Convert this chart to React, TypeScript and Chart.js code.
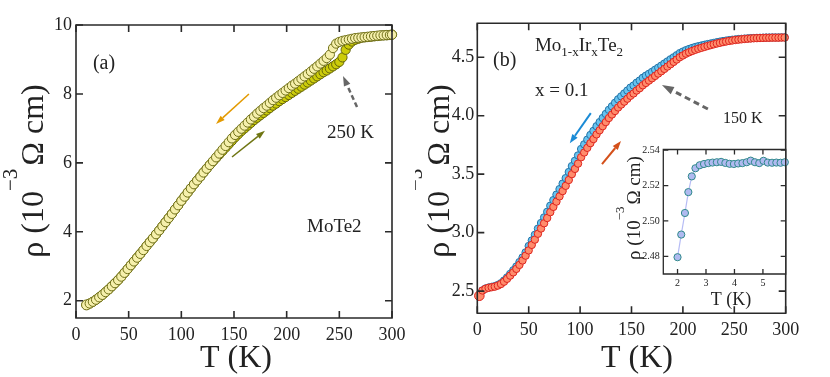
import React, { useEffect, useRef } from "react";
import { Chart, registerables } from "chart.js";
Chart.register(...registerables);

const FONT = "'Liberation Serif', 'Times New Roman', serif";
const INK = "#222";

// ---------- Panel (a): MoTe2 ----------
const tempA = [
  10, 13, 16, 19, 22, 25, 28, 31, 34, 37,
  40, 43, 46, 49, 52, 55, 58, 61, 64, 67,
  70, 73, 76, 79, 82, 85, 88, 91, 94, 97,
  100, 103, 106, 109, 112, 115, 118, 121, 124, 127,
  130, 133, 136, 139, 142, 145, 148, 151, 154, 157,
  160, 163, 166, 169, 172, 175, 178, 181, 184, 187,
  190, 193, 196, 199, 202, 205, 208, 211, 214, 217,
  220, 223, 226, 229, 232, 235, 238, 241, 244, 247,
  250, 253, 256, 259, 262, 265, 268, 271, 274, 277,
  280, 283, 286, 289, 292, 295, 298, 300,
];
const rhoCoolA = [
  1.88, 1.92, 1.97, 2.03, 2.10, 2.17, 2.25, 2.33, 2.42, 2.51,
  2.60, 2.70, 2.81, 2.92, 3.03, 3.14, 3.25, 3.36, 3.47, 3.59,
  3.70, 3.81, 3.93, 4.04, 4.16, 4.28, 4.40, 4.52, 4.65, 4.77,
  4.90, 5.02, 5.14, 5.26, 5.38, 5.49, 5.60, 5.72, 5.83, 5.94,
  6.05, 6.16, 6.27, 6.38, 6.49, 6.60, 6.71, 6.81, 6.90, 6.99,
  7.08, 7.17, 7.26, 7.34, 7.43, 7.51, 7.59, 7.66, 7.74, 7.82,
  7.89, 7.96, 8.03, 8.10, 8.17, 8.24, 8.30, 8.37, 8.44, 8.51,
  8.58, 8.65, 8.73, 8.80, 8.88, 8.96, 9.04, 9.14, 9.33, 9.46,
  9.51, 9.54, 9.56, 9.58, 9.60, 9.62, 9.63, 9.64, 9.65, 9.66,
  9.67, 9.68, 9.69, 9.70, 9.70, 9.71, 9.71, 9.72,
];
const rhoWarmA = [
  1.88, 1.92, 1.97, 2.03, 2.10, 2.17, 2.25, 2.33, 2.42, 2.51,
  2.60, 2.70, 2.81, 2.92, 3.03, 3.14, 3.25, 3.36, 3.47, 3.59,
  3.70, 3.81, 3.93, 4.04, 4.16, 4.28, 4.40, 4.52, 4.65, 4.77,
  4.90, 5.02, 5.14, 5.26, 5.38, 5.49, 5.60, 5.72, 5.83, 5.94,
  6.04, 6.14, 6.24, 6.34, 6.44, 6.54, 6.64, 6.74, 6.83, 6.92,
  7.00, 7.08, 7.16, 7.24, 7.31, 7.38, 7.45, 7.52, 7.59, 7.66,
  7.72, 7.79, 7.85, 7.91, 7.97, 8.03, 8.09, 8.15, 8.21, 8.27,
  8.33, 8.39, 8.45, 8.51, 8.57, 8.63, 8.68, 8.74, 8.80, 8.86,
  8.93, 9.06, 9.28, 9.43, 9.52, 9.57, 9.60, 9.63, 9.64, 9.65,
  9.66, 9.67, 9.68, 9.69, 9.70, 9.70, 9.71, 9.72,
];
const xTicksA = [0, 50, 100, 150, 200, 250, 300];
const yTicksA = [2, 4, 6, 8, 10];

// ---------- Panel (b): Mo1-xIrxTe2, x = 0.1 ----------
const tempB = [
  2, 5, 8, 11, 14, 17, 20, 23, 26, 29,
  32, 35, 38, 41, 44, 47, 50, 53, 56, 59,
  62, 65, 68, 71, 74, 77, 80, 83, 86, 89,
  92, 95, 98, 101, 104, 107, 110, 113, 116, 119,
  122, 125, 128, 131, 134, 137, 140, 143, 146, 149,
  152, 155, 158, 161, 164, 167, 170, 173, 176, 179,
  182, 185, 188, 191, 194, 197, 200, 203, 206, 209,
  212, 215, 218, 221, 224, 227, 230, 233, 236, 239,
  242, 245, 248, 251, 254, 257, 260, 263, 266, 269,
  272, 275, 278, 281, 284, 287, 290, 293, 296, 299,
];
const rhoWarmB = [
  2.46, 2.505, 2.52, 2.528, 2.533, 2.538, 2.547, 2.56, 2.58, 2.605,
  2.632, 2.66, 2.69, 2.724, 2.762, 2.803, 2.848, 2.895, 2.94, 2.99,
  3.035, 3.08, 3.125, 3.175, 3.22, 3.265, 3.31, 3.355, 3.40, 3.45,
  3.50, 3.545, 3.59, 3.645, 3.685, 3.725, 3.765, 3.80, 3.84, 3.875,
  3.91, 3.945, 3.98, 4.01, 4.04, 4.07, 4.095, 4.12, 4.145, 4.17,
  4.19, 4.215, 4.235, 4.26, 4.28, 4.30, 4.32, 4.34, 4.36, 4.38,
  4.40, 4.42, 4.44, 4.46, 4.48, 4.50, 4.515, 4.53, 4.542, 4.553,
  4.563, 4.572, 4.58, 4.588, 4.596, 4.603, 4.61, 4.617, 4.623, 4.629,
  4.634, 4.639, 4.643, 4.647, 4.65, 4.653, 4.656, 4.658, 4.66, 4.662,
  4.663, 4.664, 4.665, 4.666, 4.666, 4.667, 4.667, 4.667, 4.668, 4.668,
];
const rhoCoolB = [
  2.46, 2.505, 2.522, 2.53, 2.536, 2.542, 2.552, 2.567, 2.59, 2.617,
  2.647, 2.678, 2.71, 2.748, 2.787, 2.831, 2.885, 2.933, 2.981, 3.034,
  3.082, 3.13, 3.178, 3.23, 3.278, 3.325, 3.372, 3.419, 3.466, 3.518,
  3.569, 3.614, 3.66, 3.715, 3.755, 3.795, 3.835, 3.87, 3.91, 3.945,
  3.98, 4.015, 4.05, 4.08, 4.11, 4.14, 4.165, 4.19, 4.215, 4.24,
  4.258, 4.282, 4.301, 4.324, 4.342, 4.358, 4.375, 4.393, 4.41, 4.428,
  4.446, 4.464, 4.482, 4.499, 4.517, 4.535, 4.548, 4.56, 4.57, 4.579,
  4.587, 4.594, 4.60, 4.606, 4.612, 4.617, 4.622, 4.628, 4.633, 4.638,
  4.642, 4.646, 4.649, 4.652, 4.655, 4.657, 4.659, 4.661, 4.663, 4.664,
  4.665, 4.666, 4.667, 4.668, 4.668, 4.669, 4.669, 4.669, 4.67, 4.67,
];
const xTicksB = [0, 50, 100, 150, 200, 250, 300];
const yTicksB = [2.5, 3.0, 3.5, 4.0, 4.5];

// ---------- Inset: low-temperature drop ----------
const tempInset = [
  2.0, 2.13, 2.26, 2.38, 2.5, 2.63, 2.78, 2.93, 3.08, 3.23,
  3.38, 3.53, 3.68, 3.83, 3.98, 4.13, 4.28, 4.43, 4.57, 4.72,
  4.87, 5.02, 5.17, 5.32, 5.47, 5.62, 5.77,
];
const rhoInset = [
  2.4795, 2.4923, 2.5045, 2.5163, 2.5252, 2.5298, 2.5315, 2.5322, 2.5327, 2.533,
  2.5332, 2.5334, 2.5328, 2.5323, 2.5322, 2.5325, 2.5327, 2.5332, 2.5341, 2.5332,
  2.5327, 2.534, 2.533, 2.5329, 2.533, 2.5329, 2.5332,
];
const xTicksInset = [2, 3, 4, 5];
const yTicksInset = [2.48, 2.5, 2.52, 2.54];

// ---------- helpers ----------
type Seg = { t: string; size: number; dy?: number; gap?: number };

function drawRich(
  ctx: CanvasRenderingContext2D,
  segs: Seg[],
  ax: number,
  ay: number,
  align: "left" | "center",
  rot = false
) {
  ctx.save();
  ctx.translate(ax, ay);
  if (rot) ctx.rotate(-Math.PI / 2);
  ctx.textBaseline = "alphabetic";
  ctx.textAlign = "left";
  ctx.fillStyle = INK;
  let total = 0;
  const widths = segs.map((s) => {
    ctx.font = `${s.size}px ${FONT}`;
    const w = ctx.measureText(s.t).width + (s.gap || 0);
    total += w;
    return w;
  });
  let x = align === "center" ? -total / 2 : 0;
  segs.forEach((s, i) => {
    ctx.font = `${s.size}px ${FONT}`;
    ctx.fillText(s.t, x + (s.gap || 0), s.dy || 0);
    x += widths[i];
  });
  ctx.restore();
}

function arrow(
  ctx: CanvasRenderingContext2D,
  x1: number,
  y1: number,
  x2: number,
  y2: number,
  color: string,
  lw: number,
  headLen: number,
  headW: number,
  dash?: number[]
) {
  const a = Math.atan2(y2 - y1, x2 - x1);
  const bx = x2 - headLen * Math.cos(a);
  const by = y2 - headLen * Math.sin(a);
  ctx.save();
  ctx.strokeStyle = color;
  ctx.fillStyle = color;
  ctx.lineWidth = lw;
  if (dash) ctx.setLineDash(dash);
  ctx.beginPath();
  ctx.moveTo(x1, y1);
  ctx.lineTo(bx, by);
  ctx.stroke();
  ctx.setLineDash([]);
  ctx.beginPath();
  ctx.moveTo(x2, y2);
  ctx.lineTo(bx + (headW / 2) * Math.sin(a), by - (headW / 2) * Math.cos(a));
  ctx.lineTo(bx - (headW / 2) * Math.sin(a), by + (headW / 2) * Math.cos(a));
  ctx.closePath();
  ctx.fill();
  ctx.restore();
}

type Annot = (
  ctx: CanvasRenderingContext2D,
  px: (v: number) => number,
  py: (v: number) => number
) => void;

function drawFrame(chart: any, tickLen: number, frameW: number) {
  const { ctx, chartArea: a, scales } = chart;
  ctx.save();
  ctx.strokeStyle = "#2a2a2a";
  ctx.lineWidth = frameW;
  ctx.setLineDash([]);
  ctx.beginPath();
  ctx.rect(a.left, a.top, a.right - a.left, a.bottom - a.top);
  ctx.stroke();
  ctx.beginPath();
  scales.x.ticks.forEach((t: any) => {
    const p = scales.x.getPixelForValue(t.value);
    ctx.moveTo(p, a.bottom);
    ctx.lineTo(p, a.bottom - tickLen);
    ctx.moveTo(p, a.top);
    ctx.lineTo(p, a.top + tickLen);
  });
  scales.y.ticks.forEach((t: any) => {
    const p = scales.y.getPixelForValue(t.value);
    ctx.moveTo(a.left, p);
    ctx.lineTo(a.left + tickLen, p);
    ctx.moveTo(a.right, p);
    ctx.lineTo(a.right - tickLen, p);
  });
  ctx.stroke();
  ctx.restore();
}

function decor(id: string, tickLen: number, frameW: number, bg: boolean, annotate: Annot) {
  return {
    id,
    beforeDraw(chart: any) {
      if (!bg) return;
      const { ctx, chartArea: a } = chart;
      ctx.save();
      ctx.fillStyle = "#fff";
      ctx.fillRect(a.left, a.top, a.right - a.left, a.bottom - a.top);
      ctx.restore();
    },
    afterDraw(chart: any) {
      const { ctx, scales } = chart;
      drawFrame(chart, tickLen, frameW);
      annotate(
        ctx,
        (v) => scales.x.getPixelForValue(v),
        (v) => scales.y.getPixelForValue(v)
      );
    },
  };
}

function axis(
  min: number,
  max: number,
  ticks: number[],
  size: number,
  pad: number,
  fit: (s: any) => void,
  fmt: (v: number) => string
) {
  return {
    type: "linear" as const,
    min,
    max,
    grid: { display: false, drawTicks: false },
    border: { display: false },
    afterBuildTicks: (s: any) => {
      s.ticks = ticks.map((v) => ({ value: v }));
    },
    afterFit: fit,
    ticks: {
      font: { family: FONT, size },
      color: INK,
      padding: pad,
      autoSkip: false,
      maxRotation: 0,
      callback: (v: any) => fmt(Number(v)),
    },
  };
}

const pts = (xs: number[], ys: number[]) => xs.map((x, i) => ({ x, y: ys[i] }));

function baseOptions(padding: any, scales: any) {
  return {
    responsive: false,
    maintainAspectRatio: false,
    animation: false as const,
    devicePixelRatio: 1,
    events: [] as any[],
    layout: { padding },
    plugins: { legend: { display: false }, tooltip: { enabled: false } },
    scales,
  };
}

// ---------- chart configs ----------
function configA(): any {
  const annotate: Annot = (ctx, px, py) => {
    drawRich(ctx, [{ t: "ρ (10", size: 32 }, { t: "−3", size: 21, dy: -26 }, { t: "Ω cm)", size: 32, gap: 3 }], 43, 171, "center", true);
    drawRich(ctx, [{ t: "T (K)", size: 32 }], 236, 367, "center");
    drawRich(ctx, [{ t: "(a)", size: 20 }], px(16.1), py(8.72), "left");
    drawRich(ctx, [{ t: "250 K", size: 19 }], px(238.3), py(6.72), "left");
    drawRich(ctx, [{ t: "MoTe2", size: 19 }], px(219.3), py(4.0), "left");
    arrow(ctx, px(164.2), py(8.0), px(132.9), py(7.13), "#e39a00", 1.5, 9, 6);
    arrow(ctx, px(148.1), py(6.17), px(179.4), py(6.93), "#6f7512", 1.5, 9, 6);
    arrow(ctx, px(266.8), py(7.62), px(253.5), py(8.52), "#666", 2.5, 10, 7, [5, 3]);
  };
  return {
    type: "scatter",
    data: {
      datasets: [
        {
          data: pts(tempA, rhoCoolA),
          pointRadius: (c: any) => (c.dataIndex === 0 ? 5 : 4.6),
          pointBorderWidth: 1,
          pointBackgroundColor: "rgb(246,240,172)",
          pointBorderColor: "rgb(112,112,24)",
          clip: false,
        },
        {
          data: pts(tempA, rhoWarmA),
          pointRadius: 4.6,
          pointBorderWidth: 1,
          pointBackgroundColor: "rgb(204,204,10)",
          pointBorderColor: "rgb(100,100,10)",
          clip: false,
        },
      ],
    },
    options: baseOptions(
      { left: 0, top: 25, right: 23, bottom: 0 },
      {
        x: axis(0, 300, xTicksA, 18, 6, (s) => { s.height = 59; }, (v) => String(v)),
        y: axis(1.5, 10, yTicksA, 18, 4, (s) => { s.width = 76; }, (v) => String(v)),
      }
    ),
    plugins: [decor("decorA", 7, 1.6, false, annotate)],
  };
}

function configB(): any {
  const annotate: Annot = (ctx, px, py) => {
    drawRich(ctx, [{ t: "ρ (10", size: 32 }, { t: "−3", size: 21, dy: -27 }, { t: "Ω cm)", size: 32, gap: 3 }], 34, 171, "center", true);
    drawRich(ctx, [{ t: "T (K)", size: 32 }], 222, 367, "center");
    drawRich(ctx, [{ t: "(b)", size: 20 }], px(15.3), py(4.425), "left");
    drawRich(
      ctx,
      [
        { t: "Mo", size: 19 },
        { t: "1-x", size: 13, dy: 4.5 },
        { t: "Ir", size: 19 },
        { t: "x", size: 13, dy: 4.5 },
        { t: "Te", size: 19 },
        { t: "2", size: 13, dy: 4.5 },
      ],
      px(56.1),
      py(4.553),
      "left"
    );
    drawRich(ctx, [{ t: "x = 0.1", size: 19 }], px(56.1), py(4.168), "left");
    drawRich(ctx, [{ t: "150 K", size: 16 }], px(239), py(3.937), "left");
    arrow(ctx, px(110.4), py(4.022), px(90.0), py(3.765), "#1a8bd6", 2, 9, 6.5);
    arrow(ctx, px(121.3), py(3.586), px(139.8), py(3.783), "#d4501a", 2, 9, 6.5);
    arrow(ctx, px(224.3), py(4.057), px(179.6), py(4.262), "#666", 3, 12, 8, [6, 4]);
  };
  return {
    type: "scatter",
    data: {
      datasets: [
        {
          data: pts(tempB, rhoWarmB),
          pointRadius: (c: any) => (c.dataIndex === 0 ? 4.8 : 3.7),
          pointBorderWidth: 1,
          pointBackgroundColor: "rgb(255,140,108)",
          pointBorderColor: "rgb(222,36,30)",
          clip: false,
        },
        {
          data: pts(tempB, rhoCoolB),
          pointRadius: 3.7,
          pointBorderWidth: 1,
          pointBackgroundColor: "rgb(104,196,240)",
          pointBorderColor: "rgb(36,116,168)",
          clip: false,
        },
      ],
    },
    options: baseOptions(
      { left: 0, top: 23.3, right: 44.3, bottom: 0 },
      {
        x: axis(0, 300, xTicksB, 18, 6, (s) => { s.height = 63.7; }, (v) => String(v)),
        y: axis(2.31, 4.79, yTicksB, 18, 3, (s) => { s.width = 62.3; }, (v) => v.toFixed(1)),
      }
    ),
    plugins: [decor("decorB", 7, 1.6, false, annotate)],
  };
}

function configInset(): any {
  const annotate: Annot = (ctx) => {
    drawRich(ctx, [{ t: "ρ (10", size: 19 }, { t: "−3", size: 13, dy: -16 }, { t: "Ω cm)", size: 19, gap: 2 }], 40, 68, "center", true);
    drawRich(ctx, [{ t: "T (K)", size: 18 }], 131, 165, "center");
  };
  return {
    type: "scatter",
    data: {
      datasets: [
        {
          data: pts(tempInset, rhoInset),
          showLine: true,
          borderColor: "rgb(182,188,245)",
          borderWidth: 1.2,
          pointRadius: 3.6,
          pointBorderWidth: 1,
          pointBackgroundColor: "rgb(176,186,240)",
          pointBorderColor: "rgb(48,138,140)",
          clip: false,
        },
      ],
    },
    options: baseOptions(
      { left: 0, top: 8.3, right: 14.3, bottom: 0 },
      {
        x: axis(1.5, 5.8, xTicksInset, 10, 3.5, (s) => { s.height = 46; }, (v) => String(v)),
        y: axis(2.47, 2.5404, yTicksInset, 10, 3.5, (s) => { s.width = 63.3; }, (v) => v.toFixed(2)),
      }
    ),
    plugins: [decor("decorInset", 5, 1.3, true, annotate)],
  };
}

export default function App() {
  const refA = useRef<HTMLCanvasElement>(null);
  const refB = useRef<HTMLCanvasElement>(null);
  const refI = useRef<HTMLCanvasElement>(null);

  useEffect(() => {
    const charts: Chart[] = [];
    if (refA.current) charts.push(new Chart(refA.current, configA()));
    if (refB.current) charts.push(new Chart(refB.current, configB()));
    if (refI.current) charts.push(new Chart(refI.current, configInset()));
    return () => charts.forEach((c) => c.destroy());
  }, []);

  const abs = (left: number, top: number, w: number, h: number): React.CSSProperties => ({
    position: "absolute",
    left,
    top,
    width: w,
    height: h,
  });

  return (
    <div style={{ position: "absolute", left: 0, top: 0, width: 830, height: 377, background: "#fff", overflow: "hidden" }}>
      <canvas ref={refA} width={415} height={377} style={abs(0, 0, 415, 377)} />
      <canvas ref={refB} width={415} height={377} style={abs(415, 0, 415, 377)} />
      <canvas ref={refI} width={200} height={180} style={abs(600, 140, 200, 180)} />
    </div>
  );
}
